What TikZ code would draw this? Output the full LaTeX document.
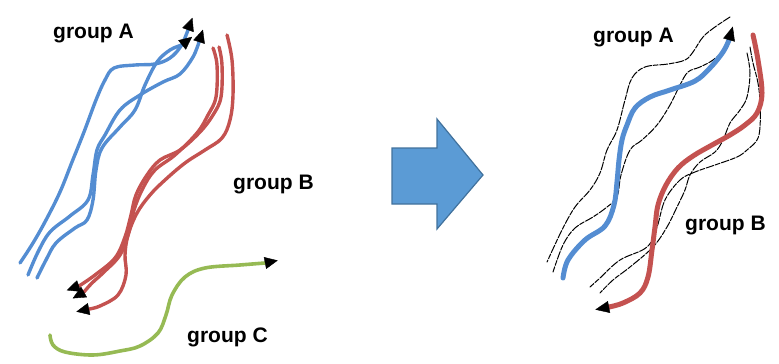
\documentclass[tikz,border=0pt]{standalone}
\usepackage{fontspec}
\setmainfont{Liberation Sans}
\usetikzlibrary{arrows.meta,calc}
\definecolor{trajblue}{RGB}{84,141,210}
\definecolor{trajred}{RGB}{196,82,80}
\definecolor{trajgreen}{RGB}{150,186,84}
\definecolor{arrowfill}{RGB}{91,155,213}
\definecolor{arrowedge}{RGB}{65,113,156}
\begin{document}
\begin{tikzpicture}[x=1pt,y=-1pt,
  wob/.style={line cap=round,line join=round},
  traj/.style={wob,line width=3.4pt},
  thick traj/.style={wob,line width=5pt},
  envelope/.style={line width=1pt,black,line cap=round,dash pattern=on 8pt off 1.6pt on 5pt off 1.6pt},
  headtip/.style={black,line width=0.4pt,-{Triangle[length=13pt,width=12pt]}},
  bighead/.style={black,line width=0.4pt,-{Triangle[length=14pt,width=12pt]}},
  grouplabel/.style={font=\fontsize{21}{24}\selectfont\bfseries,inner sep=0pt,anchor=base west},
  bigarrow/.style={fill=arrowfill,draw=arrowedge,line width=1.2pt,line join=miter}]
\useasboundingbox (0,0) rectangle (779,364);

% ---------- left panel: raw trajectories ----------
% group A
\draw[traj,trajblue] plot[smooth,tension=0.6] coordinates {(20,263) (33,243) (46,220) (60,192) (72,162) (84,132) (96,100) (105,80) (114,68) (135,65) (155,64) (170,58) (181,46) (188,30)};
\coordinate (a1) at (188,30); \coordinate (a1d) at (196,8);
\draw[traj,trajblue] plot[smooth,tension=0.6] coordinates {(28,275) (38,252) (50,232) (70,216) (88,200) (93,175) (97,150) (105,135) (120,110) (140,95) (163,82) (180,74) (193,57) (199,42)};
\coordinate (a2) at (199,42); \coordinate (a2d) at (206,20);
\draw[traj,trajblue] plot[smooth,tension=0.6] coordinates {(37,278) (46,260) (56,243) (75,228) (87,220) (93,200) (96,170) (102,148) (120,127) (135,110) (145,85) (157,62) (170,50) (182,45)};
\coordinate (a3) at (182,45); \coordinate (a3d) at (198,32);
\draw[headtip] (a1) -- ($(a1)!13pt!(a1d)$);
\draw[headtip] (a2) -- ($(a2)!13pt!(a2d)$);
\draw[headtip] (a3) -- ($(a3)!13pt!(a3d)$);

% group B
\draw[traj,trajred] plot[smooth,tension=0.6] coordinates {(227,35) (232,60) (233,95) (230,120) (222,138) (205,150) (185,163) (165,180) (150,195) (137,213) (128,235) (125,255) (126,275) (118,295) (100,306) (89,309)};
\coordinate (b1) at (89,309); \coordinate (b1d) at (70,313);
\draw[traj,trajred] plot[smooth,tension=0.6] coordinates {(219,47) (222,65) (221,97) (213,115) (200,132) (180,150) (160,160) (147,175) (136,195) (131,215) (125,237) (115,258) (95,275) (79,286)};
\coordinate (b2) at (79,286); \coordinate (b2d) at (62,292);
\draw[traj,trajred] plot[smooth,tension=0.6] coordinates {(213,48) (217,65) (216,97) (208,115) (197,133) (175,155) (155,170) (143,188) (134,210) (129,232) (120,255) (104,272) (92,283) (84,292)};
\coordinate (b3) at (84,292); \coordinate (b3d) at (68,301);
\draw[headtip] (b1) -- ($(b1)!13pt!(b1d)$);
\draw[headtip] (b2) -- ($(b2)!13pt!(b2d)$);
\draw[headtip] (b3) -- ($(b3)!13pt!(b3d)$);

% group C
\draw[traj,trajgreen,line width=3.6pt] plot[smooth,tension=0.6] coordinates {(50,335) (53,345) (65,352) (93,355) (120,351) (140,346) (158,333) (166,315) (172,295) (185,277) (205,268) (240,265) (265,263)};
\coordinate (c1) at (265,263); \coordinate (c1d) at (285,259);
\draw[headtip] (c1) -- ($(c1)!13pt!(c1d)$);

\node[grouplabel] (lA) at (53,38) {group A};
\node[grouplabel] (lB) at (233,189) {group B};
\node[grouplabel] (lC) at (187,342) {group C};

% ---------- transition arrow ----------
\draw[bigarrow] (392,148) -- (437,148) -- (437,119) -- (483,175) -- (437,229) -- (437,204) -- (392,204) -- cycle;

% ---------- right panel: representative trajectories with envelopes ----------
% envelope of group A
\draw[envelope] plot[smooth,tension=0.6] coordinates {(730,17) (715,27) (703,37) (693,52) (685,60) (668,64) (645,67) (632,78) (625,100) (617,130) (607,150) (600,173) (590,190) (575,207) (562,230) (547,262)};
\draw[envelope] plot[smooth,tension=0.6] coordinates {(733,32) (727,47) (713,60) (700,67) (688,72) (680,85) (670,105) (657,125) (642,140) (630,150) (621,175) (617,197) (607,207) (593,217) (575,228) (563,245) (553,272)};
% envelope of group B
\draw[envelope] plot[smooth,tension=0.6] coordinates {(750,47) (753,63) (758,83) (760,103) (760,127) (757,140) (747,150) (737,157) (715,165) (695,172) (680,180) (665,200) (657,227) (647,247) (620,260) (600,278) (590,287)};
\draw[envelope] plot[smooth,tension=0.6] coordinates {(747,53) (750,73) (747,97) (740,110) (730,123) (723,140) (715,152) (700,162) (690,175) (685,190) (677,207) (667,227) (653,247) (630,267) (613,280) (600,293)};

% representative of group A
\draw[thick traj,trajblue] plot[smooth,tension=0.6] coordinates {(563,278) (568,260) (585,240) (605,226) (614,205) (617,182) (619,160) (622,140) (627,125) (635,108) (650,97) (670,90) (695,81) (710,68) (723,52) (729,40)};
\coordinate (ra) at (729,40); \coordinate (rad) at (736,15);
\draw[bighead] (ra) -- ($(ra)!14pt!(rad)$);
% representative of group B
\draw[thick traj,trajred] plot[smooth,tension=0.6] coordinates {(753,35) (758,60) (762,93) (757,113) (745,125) (730,135) (712,145) (693,156) (678,168) (666,185) (658,205) (655,227) (652,250) (648,277) (640,293) (623,303) (609,307)};
\coordinate (rb) at (609,307); \coordinate (rbd) at (588,311);
\draw[bighead] (rb) -- ($(rb)!14pt!(rbd)$);

\node[grouplabel] (rA) at (593,42) {group A};
\node[grouplabel] (rB) at (685,230) {group B};
\end{tikzpicture}
\end{document}
